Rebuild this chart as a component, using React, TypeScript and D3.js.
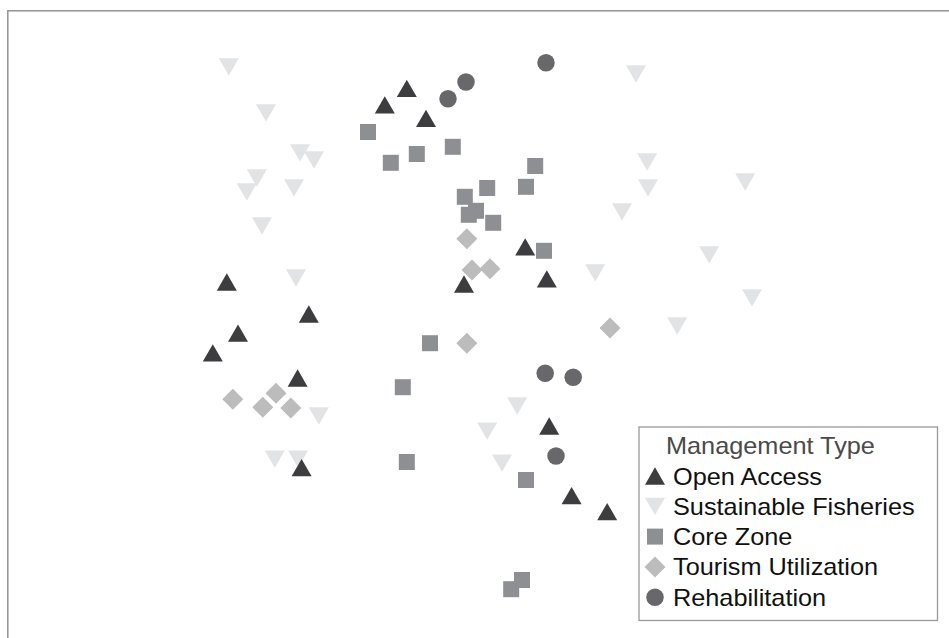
import React from "react";
import * as d3 from "d3";

// NMDS coordinates per management type
const openAccessX = [-0.183, -0.238, -0.135, 0.113, -0.04, 0.167, -0.633, -0.428, -0.605, -0.668, -0.456, -0.446, 0.173, 0.229, 0.318];
const openAccessY = [0.604, 0.563, 0.529, 0.208, 0.115, 0.128, 0.12, 0.04, -0.008, -0.057, -0.12, -0.344, -0.24, -0.414, -0.454];

const sustainableX = [-0.628, -0.535, 0.39, -0.45, -0.415, -0.558, -0.583, -0.465, 0.418, 0.42, 0.663, -0.545, 0.355, 0.573, -0.46, 0.288, 0.68, 0.493, -0.403, 0.093, 0.018, -0.513, -0.455, 0.055];
const sustainableY = [0.658, 0.543, 0.64, 0.443, 0.425, 0.38, 0.345, 0.355, 0.42, 0.355, 0.37, 0.26, 0.295, 0.188, 0.13, 0.143, 0.08, 0.01, -0.215, -0.19, -0.253, -0.323, -0.323, -0.333];

const coreX = [-0.28, -0.223, -0.158, -0.068, 0.138, -0.038, 0.018, 0.115, -0.01, -0.028, 0.033, 0.16, -0.125, -0.193, -0.183, 0.115, 0.105, 0.078];
const coreY = [0.495, 0.418, 0.44, 0.458, 0.41, 0.333, 0.355, 0.358, 0.298, 0.288, 0.268, 0.198, -0.033, -0.143, -0.33, -0.375, -0.625, -0.648];

const tourismX = [-0.033, -0.02, 0.025, -0.033, 0.325, -0.618, -0.51, -0.543, -0.473];
const tourismY = [0.228, 0.15, 0.153, -0.033, 0.005, -0.173, -0.158, -0.193, -0.195];

const rehabX = [0.165, -0.035, -0.08, 0.163, 0.233, 0.19];
const rehabY = [0.668, 0.62, 0.578, -0.108, -0.118, -0.315];

const legendTitle = "Management Type";
const typeNames = ["Open Access", "Sustainable Fisheries", "Core Zone", "Tourism Utilization", "Rehabilitation"];

// custom symbol types (size = bounding width)
const triUp = {
  draw(ctx: any, w: number) {
    const h = w * 0.866;
    ctx.moveTo(0, -h / 2);
    ctx.lineTo(w / 2, h / 2);
    ctx.lineTo(-w / 2, h / 2);
    ctx.closePath();
  },
};
const triDown = {
  draw(ctx: any, w: number) {
    const h = w * 0.866;
    ctx.moveTo(0, h / 2);
    ctx.lineTo(w / 2, -h / 2);
    ctx.lineTo(-w / 2, -h / 2);
    ctx.closePath();
  },
};
const square = {
  draw(ctx: any, w: number) {
    ctx.rect(-w / 2, -w / 2, w, w);
  },
};
const diamond = {
  draw(ctx: any, w: number) {
    ctx.moveTo(0, -w / 2);
    ctx.lineTo(w / 2, 0);
    ctx.lineTo(0, w / 2);
    ctx.lineTo(-w / 2, 0);
    ctx.closePath();
  },
};
const circle = {
  draw(ctx: any, w: number) {
    ctx.moveTo(w / 2, 0);
    ctx.arc(0, 0, w / 2, 0, Math.PI * 2);
  },
};

const series = [
  { name: typeNames[1], xs: sustainableX, ys: sustainableY, type: triDown, size: 20, color: "#e2e3e5" },
  { name: typeNames[2], xs: coreX, ys: coreY, type: square, size: 16, color: "#8e8f92" },
  { name: typeNames[3], xs: tourismX, ys: tourismY, type: diamond, size: 21, color: "#bcbcbd" },
  { name: typeNames[0], xs: openAccessX, ys: openAccessY, type: triUp, size: 20, color: "#3d3d3f" },
  { name: typeNames[4], xs: rehabX, ys: rehabY, type: circle, size: 17.5, color: "#68686b" },
];

const W = 949;
const H = 638;

export default function App() {
  const x = d3.scaleLinear().domain([-1, 1]).range([80, 880]);
  const y = d3.scaleLinear().domain([-1, 1]).range([730, -70]);

  const legendOrder = typeNames.map((n) => series.find((s) => s.name === n)!);
  const fontFamily = "'Liberation Sans', Arial, Helvetica, sans-serif";

  return (
    <svg
      width={W}
      height={H}
      style={{ position: "absolute", left: 0, top: 0, background: "#fff" }}
    >
      <rect x={7.8} y={10.8} width={1200} height={1000} fill="#fff" stroke="#999" strokeWidth={1.6} />
      {series.map((s) => (
        <g key={s.name}>
          {s.xs.map((v, i) => (
            <path
              key={i}
              transform={`translate(${x(v)},${y(s.ys[i])})`}
              d={d3.symbol(s.type as any, s.size)() as string}
              fill={s.color}
            />
          ))}
        </g>
      ))}
      <g>
        <rect x={639} y={427} width={298.5} height={193.5} fill="#fff" stroke="#999" strokeWidth={1.3} />
        <text
          transform="translate(666,454) scale(1.1,1)"
          fontFamily={fontFamily}
          fontSize={23}
          fill="#4a4a4a"
        >
          {legendTitle}
        </text>
        {legendOrder.map((s, i) => (
          <g key={s.name} transform={`translate(0,${i * 30.3})`}>
            <path
              transform={`translate(655,476)`}
              d={d3.symbol(s.type as any, s.size)() as string}
              fill={s.color}
            />
            <text
              transform="translate(673,484.5) scale(1.1,1)"
              fontFamily={fontFamily}
              fontSize={23}
              fill="#111"
            >
              {s.name}
            </text>
          </g>
        ))}
      </g>
    </svg>
  );
}
